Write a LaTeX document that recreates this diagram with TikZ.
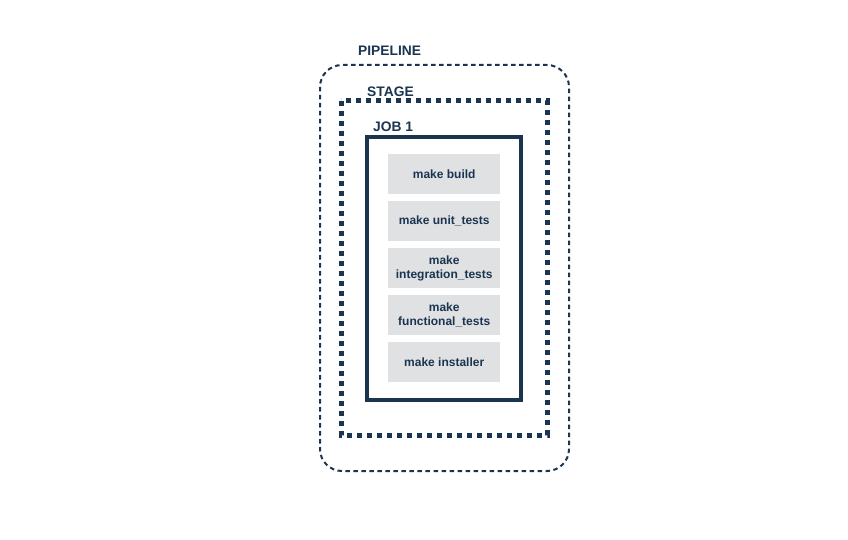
\documentclass[tikz,border=0pt]{standalone}
\usepackage{fontspec}
\setmainfont{Liberation Sans}
\definecolor{navy}{HTML}{1B3550}
\definecolor{boxgray}{HTML}{E0E1E3}
\begin{document}
\begin{tikzpicture}[x=1pt,y=-1pt,
  lbl/.style={font=\bfseries\fontsize{13.8}{15}\selectfont, text=navy, anchor=west, inner sep=0pt},
  task/.style={fill=boxgray, minimum width=112pt, minimum height=40pt, inner sep=0pt, anchor=north west,
    font=\bfseries\fontsize{12}{14}\selectfont, text=navy, align=center}]
\useasboundingbox (0,0) rectangle (848,540);
\draw[navy, line width=2pt, dash pattern=on 4.5pt off 3.5pt, rounded corners=22pt] (320,65) rectangle (569,471);
\draw[navy, line width=5pt, dash pattern=on 5pt off 5pt] (341,101) rectangle (547,435);
\draw[navy, line width=4pt] (367,137) rectangle (521,400);
\node[lbl] (pipeline) at (358,51) {PIPELINE};
\node[lbl] (stage) at (367,92) {STAGE};
\node[lbl] (job) at (373,127) {JOB 1};
\node[task] (b1) at (388,154) {make build};
\node[task] (b2) at (388,201) {make unit\_tests};
\node[task] (b3) at (388,248) {make\\integration\_tests};
\node[task] (b4) at (388,295) {make\\functional\_tests};
\node[task] (b5) at (388,342) {make installer};
\end{tikzpicture}
\end{document}
